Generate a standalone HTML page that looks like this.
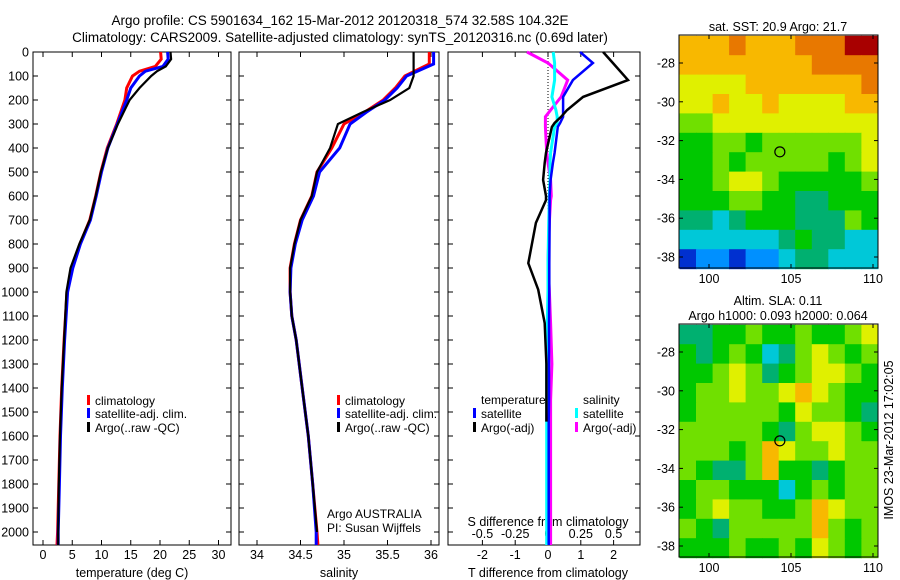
<!DOCTYPE html>
<html><head><meta charset="utf-8"><style>
body{margin:0;background:#fff;}
svg{display:block;font-family:"Liberation Sans",sans-serif;}
text{fill:#000;}
</style></head><body>
<svg id="fig" width="900" height="580" viewBox="0 0 900 580" xmlns="http://www.w3.org/2000/svg">
<rect width="900" height="580" fill="#fff"/>
<text x="340" y="25" font-size="13.5" text-anchor="middle">Argo profile: CS 5901634_162 15-Mar-2012 20120318_574 32.58S 104.32E</text>
<text x="340" y="42" font-size="13.5" text-anchor="middle">Climatology: CARS2009. Satellite-adjusted climatology: synTS_20120316.nc (0.69d later)</text>
<g id="plots"></g>
</svg>
<script>
// ---- data ----
const depthT = [0,30,60,80,100,150,200,300,400,500,600,700,800,900,1000,1200,1400,1600,1800,2000,2054];
const tempClim = [20.1,20.2,19.2,16.5,15.3,14.3,14.0,12.6,11.0,9.9,9.0,8.0,6.3,5.0,4.1,3.6,3.2,2.9,2.7,2.5,2.4];
const tempSat  = [21.3,21.4,20.5,17.5,16.5,15.0,14.3,12.7,11.1,10.0,9.1,8.1,6.4,5.1,4.2,3.7,3.3,3.0,2.8,2.6,2.6];
const tempArgo = [21.8,21.9,21.0,19.5,18.5,16.5,14.8,12.8,11.1,9.9,9.0,8.0,6.2,4.7,4.0,3.6,3.2,2.9,2.7,2.6,2.6];
const depthS = [0,50,100,150,200,250,300,400,500,600,700,800,900,1000,1100,1200,1400,1600,1800,2000,2054];
const salClim = [35.98,35.98,35.70,35.59,35.45,35.24,35.00,34.86,34.69,34.63,34.50,34.43,34.38,34.38,34.40,34.45,34.52,34.59,34.64,34.69,34.70];
const salSat  = [36.03,36.03,35.72,35.61,35.47,35.26,35.07,34.95,34.72,34.65,34.52,34.44,34.39,34.38,34.40,34.45,34.52,34.59,34.64,34.68,34.68];
const salArgo = [35.80,35.80,35.80,35.75,35.53,35.22,34.93,34.84,34.69,34.63,34.50,34.43,34.38,34.38,34.40,34.45,34.52,34.59,34.64,34.69];
const depthD = [0,46,117,187,242,270,296,312,420,462,533,600,617,712,880,990,1130,1300,1450,1540,1800,2054];
const dT_sat  = [0.98,1.37,0.76,0.46,0.46,0.46,0.37,0.3,0.2,0.15,0.08,0.05,0.05,0.05,0.04,0.04,0.03,0.03,0.03,0.02,0.02,0.02];
const dT_argo = [1.68,1.98,2.44,1.07,0.58,0.4,0.2,0.12,-0.06,-0.1,-0.15,-0.06,-0.06,-0.37,-0.6,-0.3,-0.1,-0.05,-0.05,-0.05];
const dS_sat  = [0.04,0.05,0.05,0.03,0.06,0.07,0.07,0.05,0.02,0.015,0.015,0.01,0.01,0.005,0.0,0.0,-0.005,-0.01,-0.01,-0.01,-0.01,-0.01];
const dS_argo = [-0.16,0.0,0.15,0.1,0.02,-0.02,-0.02,-0.02,-0.01,0.0,0.02,0.025,0.02,0.01,0.0,0.01,0.02,0.03,0.02,0.02,0.02,0.02];
const depthTicks = [0,100,200,300,400,500,600,700,800,900,1000,1100,1200,1300,1400,1500,1600,1700,1800,1900,2000];
const tempTicks = [0,5,10,15,20,25,30];
const salTicks = [34,34.5,35,35.5,36];
const tdTicks = [-2,-1,0,1,2];
const sdTicks = [-0.5,-0.25,0,0.25,0.5];
const sdTickLabels = ["-0.5","-0.25","0","0.25","0.5"];
const lonTicks = [100,105,110];
const latTicks = [-28,-30,-32,-34,-36,-38];
const sstGrid = [
[8,8,8,9,8,8,8,9,9,9,10,10],
[8,8,8,8,8,8,8,8,9,9,9,9],
[7,7,7,7,8,8,8,8,8,8,8,9],
[7,7,8,7,7,8,7,7,7,7,8,8],
[6,6,7,7,7,7,7,7,7,7,7,7],
[5,5,6,6,5,6,6,6,6,6,6,7],
[5,5,6,5,6,6,6,6,6,5,6,7],
[5,5,6,7,7,6,5,5,5,5,5,6],
[5,5,5,6,6,5,5,4,4,5,5,5],
[4,4,3,4,5,5,5,4,4,4,6,5],
[3,3,3,3,3,3,4,5,4,4,3,3],
[1,2,2,1,2,2,3,4,4,3,3,3]];
const slaGrid = [
[4,4,5,5,6,5,5,6,5,5,6,7],
[5,4,5,6,5,3,4,6,7,6,5,6],
[5,5,6,7,6,4,5,6,7,7,6,5],
[5,6,6,7,6,6,7,8,7,6,5,5],
[5,6,6,6,6,6,5,7,6,6,5,4],
[6,6,6,6,6,5,4,6,7,7,6,5],
[6,6,6,5,6,8,7,6,6,7,6,6],
[6,5,4,4,6,8,5,5,4,5,6,6],
[5,6,6,5,5,5,3,5,6,5,6,6],
[5,6,7,6,6,5,5,6,8,7,6,6],
[6,5,4,6,6,6,6,6,8,6,5,6],
[5,5,5,6,5,5,6,5,7,6,5,6]];
const cmap = ['#00108c','#0030d0','#0090ff','#00c8d8','#00b070','#00c800','#70e000','#e0f000','#f8b800','#e87800','#a80000'];
const argoLon = 104.32, argoLat = -32.58;

// ---- helpers ----
const NS = "http://www.w3.org/2000/svg";
const G = document.getElementById('plots');
function el(tag, attrs, parent){const e=document.createElementNS(NS,tag);for(const k in attrs)e.setAttribute(k,attrs[k]);(parent||G).appendChild(e);return e;}
const TOP=52, BOT=545;
const yD = d => TOP + d*0.24;
function panel(x0,x1,name){
  const r = el('rect',{x:x0,y:TOP,width:x1-x0,height:BOT-TOP,fill:'none',stroke:'#000','stroke-width':1});
  
  
  depthTicks.forEach(d=>{
    el('line',{x1:x0,x2:x0+5,y1:yD(d),y2:yD(d),stroke:'#000'});
    el('line',{x1:x1-5,x2:x1,y1:yD(d),y2:yD(d),stroke:'#000'});
  });
}
function xticks(xs,labels,fx,name,ly){
  xs.forEach((v,i)=>{
    const x=fx(v);
    el('line',{x1:x,x2:x,y1:BOT,y2:BOT-5,stroke:'#000'});
    el('line',{x1:x,x2:x,y1:TOP,y2:TOP+5,stroke:'#000'});
    const t=el('text',{x:x,y:ly,'font-size':12.5,'text-anchor':'middle'});
    t.textContent=labels[i];
    
    
  });
}
function line(vals,deps,fx,color,w,name){
  const pts=vals.map((v,i)=>fx(v).toFixed(1)+','+yD(deps[i]).toFixed(1)).join(' ');
  const p=el('polyline',{points:pts,fill:'none',stroke:color,'stroke-width':w,'stroke-linejoin':'miter'});
  
  
}
function txt(x,y,s,name,size,anchor){
  const t=el('text',{x:x,y:y,'font-size':size||12,'text-anchor':anchor||'start'});
  t.textContent=s;
  
  
  return t;
}
function legMark(x,y,color,name){
  const r=el('rect',{x:x,y:y-10,width:3,height:10,fill:color});
  
  
}

// ---- temperature panel ----
const xT = v => 43 + v*5.85;
panel(33,231,'temperature-panel');
depthTicks.forEach(d=>{const t=txt(29,yD(d)+4.5,String(d),'depth-tick-label',12.5,'end');});
xticks(tempTicks,tempTicks.map(String),xT,'temperature-tick-label',559);
txt(132,577,'temperature (deg C)','temperature-axis-title',12.5,'middle');
line(tempClim,depthT,xT,'#ff0000',3,'temp-climatology-line');
line(tempSat,depthT,xT,'#0000ff',3,'temp-satellite-line');
line(tempArgo,depthT,xT,'#000000',2.2,'temp-argo-line');
legMark(87,405,'#ff0000','legend-climatology-marker');txt(95,405,'climatology','legend-climatology');
legMark(87,418,'#0000ff','legend-satellite-marker');txt(95,418,'satellite-adj. clim.','legend-satellite');
legMark(87,432,'#000','legend-argo-marker');txt(95,432,'Argo(..raw -QC)','legend-argo');

// ---- salinity panel ----
const xS = v => 257 + (v-34)*87;
panel(239,439,'salinity-panel');
xticks(salTicks,salTicks.map(String),xS,'salinity-tick-label',559);
txt(339,577,'salinity','salinity-axis-title',12.5,'middle');
line(salClim,depthS,xS,'#ff0000',3,'sal-climatology-line');
line(salSat,depthS,xS,'#0000ff',3,'sal-satellite-line');
line(salArgo,depthS.slice(0,salArgo.length),xS,'#000000',2.2,'sal-argo-line');
legMark(337,405,'#ff0000','legend2-climatology-marker');txt(345,405,'climatology','legend2-climatology');
legMark(337,418,'#0000ff','legend2-satellite-marker');txt(345,418,'satellite-adj. clim.','legend2-satellite');
legMark(337,432,'#000','legend2-argo-marker');txt(345,432,'Argo(..raw -QC)','legend2-argo');
txt(327,518,'Argo AUSTRALIA','float-owner-label');
txt(327,532,'PI: Susan Wijffels','pi-label');

// ---- difference panel ----
const xTd = v => 548 + v*32.8;
const xSd = v => 548 + v*131.2;
panel(448,640,'difference-panel');
el('line',{x1:548,x2:548,y1:TOP,y2:BOT,stroke:'#000','stroke-dasharray':'1,2'});
xticks(tdTicks,tdTicks.map(String),xTd,'tdiff-tick-label',559);
sdTicks.forEach((v,i)=>{const t=txt(xSd(v),538,sdTickLabels[i],'sdiff-tick-label',12.5,'middle');});
txt(548,526,'S difference from climatology','sdiff-axis-title',12.5,'middle');
txt(548,577,'T difference from climatology','tdiff-axis-title',12.5,'middle');
line(dS_argo,depthD,xSd,'#ff00ff',3,'sdiff-argo-line');
line(dS_sat,depthD,xSd,'#00ffff',3,'sdiff-satellite-line');
line(dT_sat,depthD,xTd,'#0000ff',2.5,'tdiff-satellite-line');
line(dT_argo,depthD.slice(0,dT_argo.length),xTd,'#000000',2.5,'tdiff-argo-line');
txt(481,404,'temperature','legend3-temperature-heading');
legMark(473,418,'#0000ff','legend3-tsat-marker');txt(481,418,'satellite','legend3-tsat');
legMark(473,432,'#000','legend3-targo-marker');txt(481,432,'Argo(-adj)','legend3-targo');
txt(583,404,'salinity','legend3-salinity-heading');
legMark(575,418,'#00ffff','legend3-ssat-marker');txt(583,418,'satellite','legend3-ssat');
legMark(575,432,'#ff00ff','legend3-sargo-marker');txt(583,432,'Argo(-adj)','legend3-sargo');

// ---- maps ----
const xL = v => 709 + (v-100)*16.4;
function map(grid,top,name,titleLines){
  const y0=top, bottom=top+233;
  const yL = v => y0 + 28 + (-28 - v)*19.4;
  const nR=grid.length, nC=grid[0].length;
  const lon0=98.2, lat0=-26.6, dLon=(110.3-98.2)/nC, dLat=(38.6-26.6)/nR;
  grid.forEach((row,r)=>row.forEach((v,c)=>{
    const x=xL(lon0+c*dLon), y=yL(lat0-r*dLat);
    const cell=el('rect',{x:x.toFixed(1),y:y.toFixed(1),width:(dLon*16.4+0.6).toFixed(1),height:(dLat*19.4+0.6).toFixed(1),fill:cmap[v]});
    
    
  }));
  const fr=el('rect',{x:679,y:y0,width:199,height:233,fill:'none',stroke:'#000'});
  
  
  lonTicks.forEach(v=>{
    const x=xL(v);
    el('line',{x1:x,x2:x,y1:bottom,y2:bottom-4,stroke:'#000'});
    el('line',{x1:x,x2:x,y1:y0,y2:y0+4,stroke:'#000'});
    txt(x,bottom+15,String(v),name+'-lon-label',12.5,'middle');
  });
  latTicks.forEach(v=>{
    const y=yL(v);
    el('line',{x1:679,x2:683,y1:y,y2:y,stroke:'#000'});
    el('line',{x1:874,x2:878,y1:y,y2:y,stroke:'#000'});
    txt(675,y+4.5,String(v),name+'-lat-label',12.5,'end');
  });
  const ac=el('circle',{cx:xL(argoLon),cy:yL(argoLat),r:5,fill:'none',stroke:'#000','stroke-width':1.2});
  
  
  titleLines.forEach((s,i)=>txt(778,y0-4-(titleLines.length-1-i)*15,s,name+'-title',12.5,'middle'));
}
map(sstGrid,35,'sst-map',['sat. SST: 20.9 Argo: 21.7']);
map(slaGrid,324,'sla-map',['Altim. SLA: 0.11','Argo h1000: 0.093 h2000: 0.064']);
const stamp=txt(0,0,'IMOS 23-Mar-2012 17:02:05','imos-timestamp',12.5,'middle');
stamp.setAttribute('transform','translate(893,440) rotate(-90)');
</script>
</body></html>
